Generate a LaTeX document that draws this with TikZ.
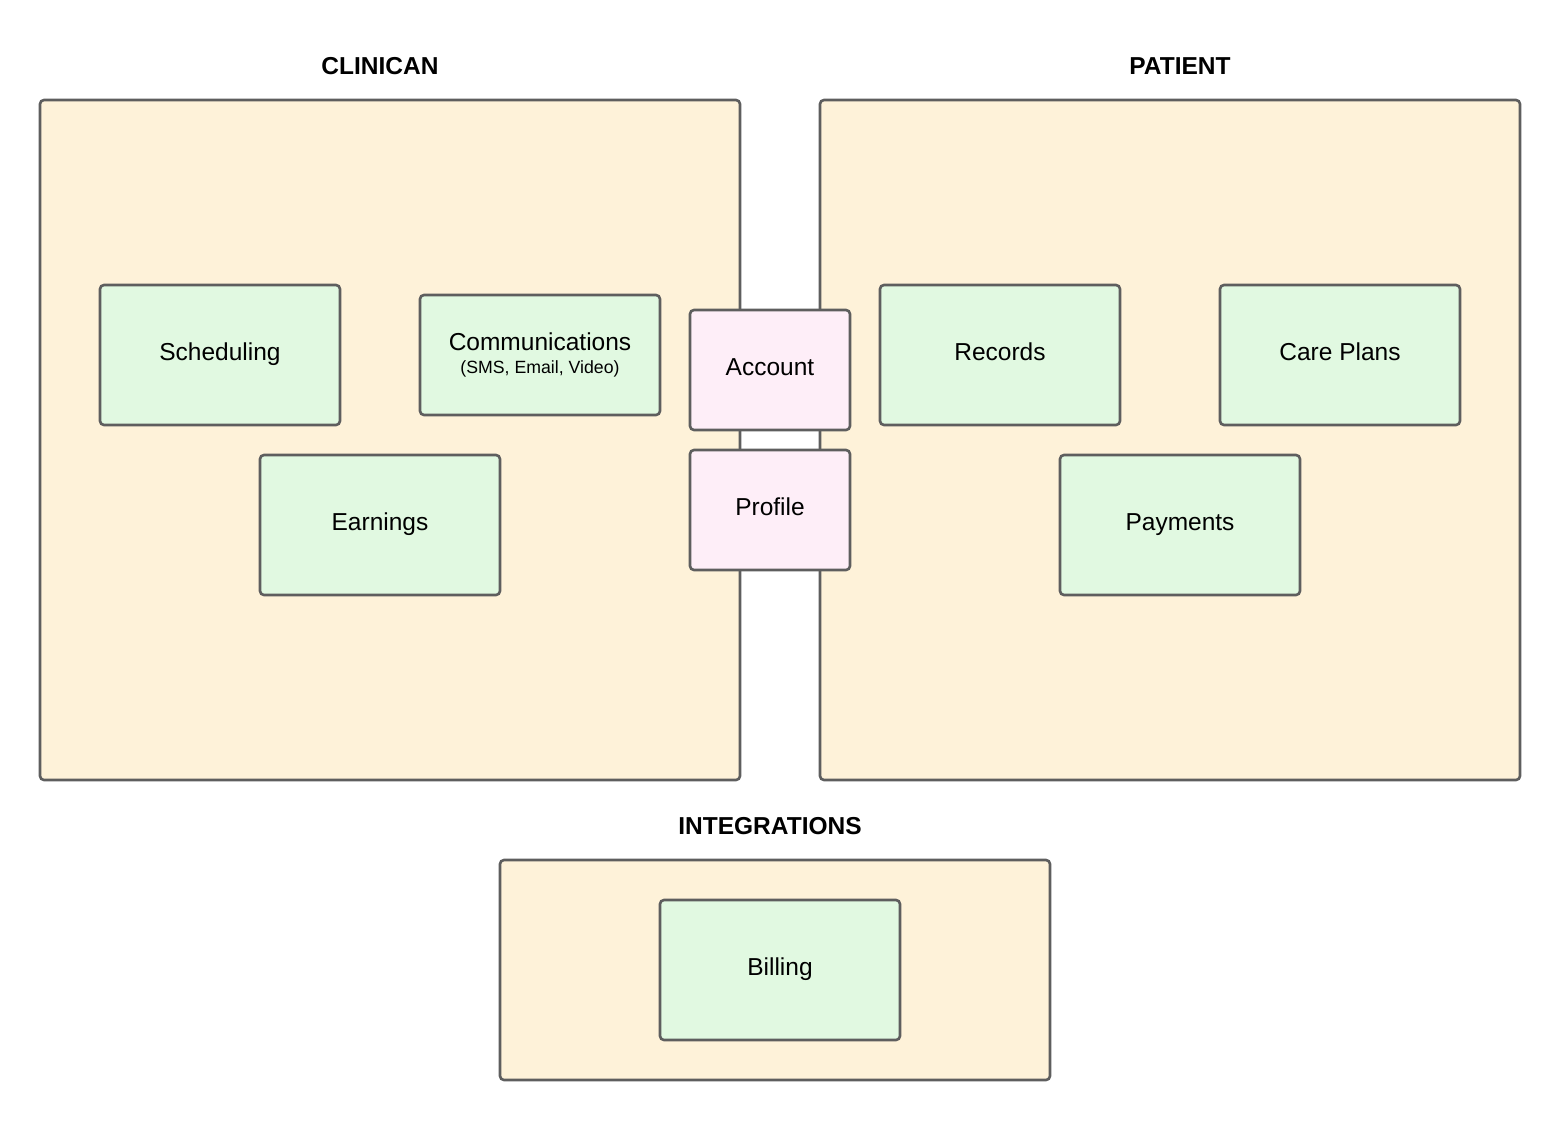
\documentclass[tikz,border=0pt]{standalone}
\usepackage{fontspec}
\setmainfont{Liberation Sans}
\definecolor{contfill}{HTML}{FEF2D9}
\definecolor{greenfill}{HTML}{E1F9E1}
\definecolor{pinkfill}{HTML}{FEEEF8}
\definecolor{edge}{HTML}{5E5E5E}
\begin{document}
\begin{tikzpicture}[x=1pt,y=-1pt,
  container/.style={draw=edge,fill=contfill,line width=2.6pt,rounded corners=4pt},
  modbox/.style={draw=edge,fill=greenfill,line width=2.6pt,rounded corners=4pt,
    minimum width=240pt,minimum height=140pt,inner sep=0pt,font=\fontsize{24.5}{29}\selectfont,
    align=center,text height=17.6pt,text depth=7pt},
  sharedbox/.style={draw=edge,fill=pinkfill,line width=2.6pt,rounded corners=4pt,
    minimum width=160pt,minimum height=120pt,inner sep=0pt,font=\fontsize{24.5}{29}\selectfont,
    align=center,text height=17.6pt,text depth=7pt},
  title/.style={font=\bfseries\fontsize{24.5}{29}\selectfont}]
\useasboundingbox (0,0) rectangle (1560,1120);
\fill[white] (0,0) rectangle (1560,1120);
% containers
\node[container,minimum width=700pt,minimum height=680pt,inner sep=0pt] (clin) at (390,440) {};
\node[container,minimum width=700pt,minimum height=680pt,inner sep=0pt] (pat) at (1170,440) {};
\node[container,minimum width=550pt,minimum height=220pt,inner sep=0pt] (integ) at (775,970) {};
% titles
\node[title] (tclin) at (380,66) {CLINICAN};
\node[title] (tpat) at (1180,66) {PATIENT};
\node[title] (tint) at (770,826) {INTEGRATIONS};
% clinician modules
\node[modbox] (sched) at (220,355) {Scheduling};
\node[modbox,minimum height=120pt] (comm) at (540,355) {};
\node (commtxt) at (540,342) {\fontsize{24.5}{29}\selectfont Communications};
\node (commsub) at (540,369) {\fontsize{17.7}{21}\selectfont (SMS, Email, Video)};
\node[modbox] (earn) at (380,525) {Earnings};
% shared
\node[sharedbox] (acct) at (770,370) {Account};
\node[sharedbox] (prof) at (770,510) {Profile};
% patient modules
\node[modbox] (rec) at (1000,355) {Records};
\node[modbox] (care) at (1340,355) {Care Plans};
\node[modbox] (pay) at (1180,525) {Payments};
% integrations
\node[modbox] (bill) at (780,970) {Billing};
\end{tikzpicture}
\end{document}
